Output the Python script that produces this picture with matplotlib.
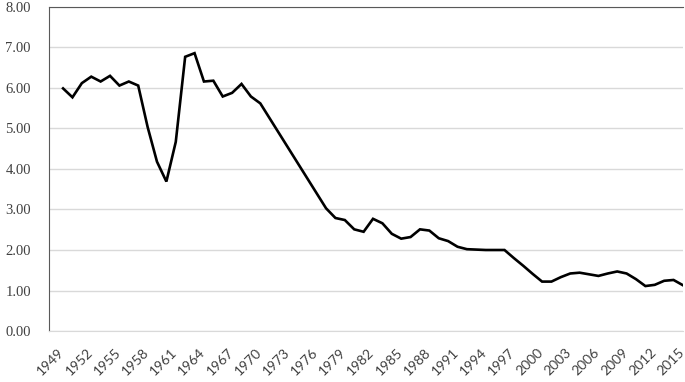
import numpy as np
import matplotlib
import matplotlib.pyplot as plt
from matplotlib.transforms import ScaledTranslation

matplotlib.use("Agg")

years = list(range(1949, 2016))
tfr = [
    5.99, 5.77, 6.12, 6.28, 6.16, 6.30, 6.06, 6.16, 6.06, 5.04,   # 1949-1958
    4.18, 3.69, 4.67, 6.77, 6.86, 6.16, 6.18, 5.79, 5.88, 6.10,   # 1959-1968
    5.79, 5.62, 5.25, 4.88, 4.51, 4.14, 3.77, 3.40, 3.03, 2.79,   # 1969-1978
    2.74, 2.51, 2.45, 2.77, 2.66, 2.40, 2.28, 2.32, 2.51, 2.48,   # 1979-1988
    2.29, 2.22, 2.08, 2.02, 2.01, 2.00, 2.00, 2.00, 1.80, 1.61,   # 1989-1998
    1.41, 1.22, 1.22, 1.33, 1.42, 1.44, 1.40, 1.36, 1.42, 1.47,   # 1999-2008
    1.42, 1.28, 1.11, 1.14, 1.24, 1.26, 1.13,                     # 2009-2015
]
yticks = [0, 1, 2, 3, 4, 5, 6, 7, 8]
xtick_years = list(range(1949, 2016, 3))

fig = plt.figure(figsize=(6.85, 3.82), dpi=100)
ax = fig.add_axes([0.0715, 0.1335, 0.9255, 0.8482])

ax.plot(years, tfr, color="black", lw=1.9, solid_joinstyle="miter")

ax.set_xlim(1947.5, 2015)
ax.set_ylim(0, 8)
ax.set_yticks(yticks)
ax.set_yticklabels([f"{v:.2f}" for v in yticks], family="Liberation Serif",
                   fontsize=10.5, color="#404040")
ax.set_xticks(xtick_years)
ax.set_xticklabels([str(y) for y in xtick_years], rotation=45, ha="right",
                   va="top", rotation_mode="anchor", family="Lato",
                   fontsize=10, color="#404040")
ax.tick_params(axis="both", length=0)
ax.tick_params(axis="y", pad=13)
ax.tick_params(axis="x", pad=11)

# nudge the rotated year labels a bit to the left, as in the original
shift = ScaledTranslation(-5 / 100, 0, fig.dpi_scale_trans)
for lab in ax.get_xticklabels():
    lab.set_transform(lab.get_transform() + shift)

ax.grid(axis="y", color="#d9d9d9", lw=1)
ax.set_axisbelow(True)
ax.spines["right"].set_visible(False)
ax.spines["left"].set_color("#595959")
ax.spines["top"].set_color("#595959")
ax.spines["bottom"].set_color("#d9d9d9")

fig.savefig("out.png", dpi=100)
